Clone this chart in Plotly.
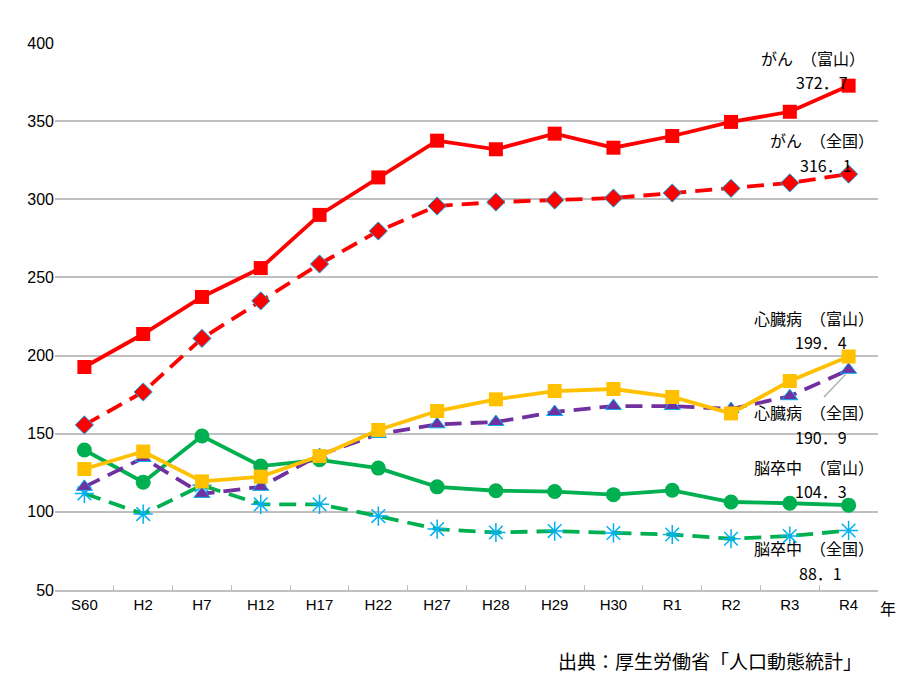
import plotly.graph_objects as go

years = ["S60", "H2", "H7", "H12", "H17", "H22", "H27", "H28", "H29", "H30", "R1", "R2", "R3", "R4"]

cancer_toyama = [192.7, 213.8, 237.5, 256.0, 290.0, 314.0, 337.5, 332.0, 342.0, 333.0, 340.5, 349.5, 356.0, 372.7]
cancer_japan = [155.6, 176.7, 211.0, 235.0, 258.6, 279.7, 295.7, 298.2, 299.5, 300.8, 304.0, 307.0, 310.5, 316.1]
heart_toyama = [127.4, 138.6, 119.5, 122.5, 135.7, 152.4, 164.5, 172.0, 177.3, 178.6, 173.5, 163.0, 183.7, 199.4]
heart_japan = [116.0, 134.5, 111.5, 116.0, 136.4, 149.8, 156.0, 157.5, 163.9, 167.7, 167.7, 165.8, 174.0, 190.9]
stroke_toyama = [139.6, 119.0, 148.5, 129.3, 133.3, 128.0, 116.0, 113.5, 113.0, 111.0, 113.8, 106.3, 105.5, 104.3]
stroke_japan = [111.8, 98.6, 117.0, 104.8, 104.8, 97.3, 89.0, 86.8, 87.7, 86.5, 85.5, 82.8, 84.5, 88.1]

label_texts = [
    ("がん　（富山）", 813, 58), ("372．7", 822, 82),
    ("がん　（全国）", 822, 140), ("316．1", 826, 165),
    ("心臓病　（富山）", 814, 318), ("199．4", 821, 342),
    ("心臓病　（全国）", 814, 412), ("190．9", 821, 437),
    ("脳卒中　（富山）", 814, 467), ("104．3", 821, 491),
    ("脳卒中　（全国）", 814, 548), ("88．1", 820, 573),
]

# figure is drawn at an 8px page offset
W, H = 904, 678
L, R, T, B = 47, 34, 35, 96
PX0, PX1, PY0, PY1 = 55, 878, 43, 590  # plot area in screenshot pixels

def px2paper(px, py):
    return (px - PX0) / (PX1 - PX0), 1 - (py - PY0) / (PY1 - PY0)

fig = go.Figure()

def add(vals, color, dash, symbol, msize, mcolor, mline_color, mline_w, name):
    fig.add_trace(go.Scatter(
        x=years, y=vals, mode="lines+markers", name=name,
        line=dict(color=color, width=3.8, dash=dash),
        marker=dict(symbol=symbol, size=msize, color=mcolor,
                    line=dict(color=mline_color, width=mline_w)),
    ))

DASH = "17px,9px"
add(stroke_japan, "#00B050", DASH, "asterisk-open", 16, "#00B0F0", "#00B0F0", 1.5, "脳卒中（全国）")
add(stroke_toyama, "#00B050", "solid", "circle", 15, "#00B050", "#00B050", 0, "脳卒中（富山）")
add(heart_japan, "#7030A0", DASH, "triangle-up", 14, "#7030A0", "#00B0F0", 1, "心臓病（全国）")
add(heart_toyama, "#FFC000", "solid", "square", 14, "#FFC000", "#FFC000", 0, "心臓病（富山）")
add(cancer_japan, "#FF0000", DASH, "diamond", 14, "#FF0000", "#00B0F0", 1, "がん（全国）")
add(cancer_toyama, "#FF0000", "solid", "square", 14, "#FF0000", "#FF0000", 0, "がん（富山）")

annotations = []
for text, px, py in label_texts:
    ax, ay = px2paper(px, py)
    annotations.append(dict(
        text=text, x=ax, y=ay,
        xref="paper", yref="paper", showarrow=False, xanchor="center", yanchor="middle",
        font=dict(family="Noto Sans CJK JP", size=16, color="#000000"),
    ))
ax, ay = px2paper(888, 608)
annotations.append(dict(
    text="年", x=ax, y=ay,
    xref="paper", yref="paper", showarrow=False, xanchor="center", yanchor="middle",
    font=dict(family="Noto Sans CJK JP", size=16, color="#000000"),
))
ax, ay = px2paper(864, 660)
annotations.append(dict(
    text="出典：厚生労働省「人口動態統計」", x=ax, y=ay,
    xref="paper", yref="paper", showarrow=False, xanchor="right", yanchor="middle",
    font=dict(family="Noto Sans CJK JP", size=19, color="#000000"),
))

fig.update_layout(
    width=W, height=H,
    margin=dict(l=L, r=R, t=T, b=B),
    paper_bgcolor="white", plot_bgcolor="white",
    showlegend=False,
    annotations=annotations,
    shapes=[dict(type="line", xref="x", yref="y", x0=12.58, y0=173.5, x1=12.95, y1=188,
                 line=dict(color="#A6A6A6", width=1.2))],
    xaxis=dict(
        type="category", showgrid=False, showline=True, linecolor="#BFBFBF", linewidth=1.5,
        ticks="inside", tickson="boundaries", ticklen=5, tickcolor="#BFBFBF",
        tickfont=dict(family="Liberation Sans Narrow, Liberation Sans", size=15, color="#000000"),
        range=[-0.5, 13.5],
    ),
    yaxis=dict(
        range=[50, 400], dtick=50, showgrid=True, gridcolor="#BFBFBF", gridwidth=1.5,
        zeroline=False, showline=False,
        tickfont=dict(family="Liberation Sans Narrow, Liberation Sans", size=16, color="#000000"),
    ),
)

fig.write_html("out.html")
